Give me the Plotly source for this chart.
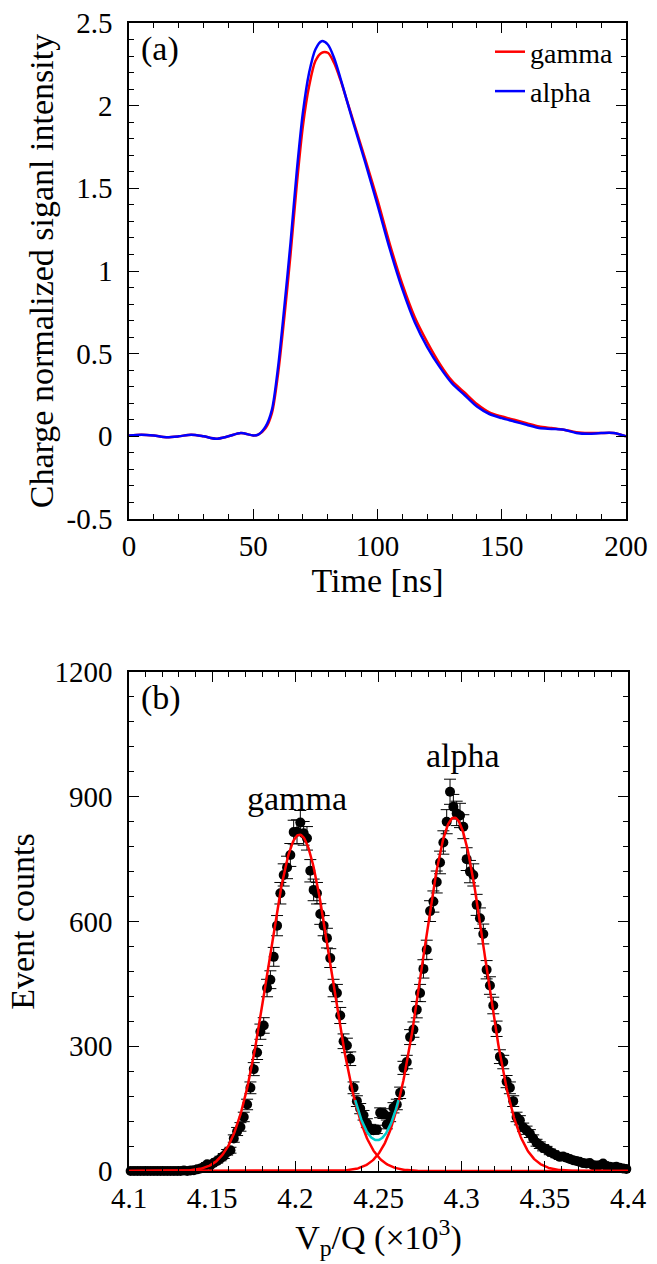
import numpy as np
import plotly.graph_objects as go

# ---------------- Panel (a): charge-normalized signals ----------------
time_ns = [0, 5, 10, 15, 20, 25, 30, 35, 40, 45, 50, 52, 55, 57.5, 60, 62.5, 65, 67.5,
           70, 72.5, 75, 77.5, 80, 82.5, 85, 87.5, 90, 95, 100, 105, 110, 115, 120,
           125, 130, 135, 140, 145, 150, 155, 160, 165, 170, 175, 180, 185, 190, 195, 200]
alpha_sig = [0.005, 0.01, 0.005, -0.005, 0.0, 0.01, 0.0, -0.015, 0.0, 0.02, 0.005, 0.01,
             0.06, 0.16, 0.42, 0.78, 1.17, 1.6, 1.96, 2.2, 2.34, 2.39, 2.37, 2.29, 2.17,
             2.04, 1.91, 1.66, 1.40, 1.13, 0.89, 0.69, 0.54, 0.42, 0.32, 0.25, 0.18, 0.135,
             0.11, 0.09, 0.07, 0.05, 0.045, 0.04, 0.02, 0.015, 0.02, 0.02, 0.0]
gamma_sig = [0.005, 0.01, 0.005, -0.005, 0.0, 0.01, 0.0, -0.015, 0.0, 0.02, 0.005, 0.01,
             0.05, 0.14, 0.38, 0.72, 1.1, 1.52, 1.88, 2.12, 2.27, 2.32, 2.32, 2.26, 2.16,
             2.04, 1.92, 1.68, 1.43, 1.16, 0.92, 0.72, 0.57, 0.44, 0.335, 0.265, 0.195,
             0.145, 0.12, 0.1, 0.08, 0.06, 0.05, 0.04, 0.025, 0.02, 0.02, 0.02, 0.0]

# ---------------- Panel (b): Vp/Q histogram ----------------
vpq_bins = [4.101, 4.103, 4.105, 4.107, 4.109, 4.111, 4.113, 4.115, 4.117, 4.119,
            4.121, 4.123, 4.125, 4.127, 4.129, 4.131, 4.133, 4.135, 4.137, 4.139,
            4.141, 4.143, 4.145, 4.147, 4.149, 4.151, 4.153, 4.155, 4.157, 4.159,
            4.161, 4.163, 4.165, 4.167, 4.169, 4.171, 4.173, 4.175, 4.177, 4.179,
            4.181, 4.183, 4.185, 4.187, 4.189, 4.191, 4.193, 4.195, 4.197, 4.199,
            4.201, 4.203, 4.205, 4.207, 4.209, 4.211, 4.213, 4.215, 4.217, 4.219,
            4.221, 4.223, 4.225, 4.227, 4.229, 4.231, 4.233, 4.235, 4.237, 4.239,
            4.241, 4.243, 4.245, 4.247, 4.249, 4.251, 4.253, 4.255, 4.257, 4.259,
            4.261, 4.263, 4.265, 4.267, 4.269, 4.271, 4.273, 4.275, 4.277, 4.279,
            4.281, 4.283, 4.285, 4.287, 4.289, 4.291, 4.293, 4.295, 4.297, 4.299,
            4.301, 4.303, 4.305, 4.307, 4.309, 4.311, 4.313, 4.315, 4.317, 4.319,
            4.321, 4.323, 4.325, 4.327, 4.329, 4.331, 4.333, 4.335, 4.337, 4.339,
            4.341, 4.343, 4.345, 4.347, 4.349, 4.351, 4.353, 4.355, 4.357, 4.359,
            4.361, 4.363, 4.365, 4.367, 4.369, 4.371, 4.373, 4.375, 4.377, 4.379,
            4.381, 4.383, 4.385, 4.387, 4.389, 4.391, 4.393, 4.395, 4.397, 4.399]
event_counts = [0, 0, 0, 0, 0, 0, 0, 0, 0, 0,
                0, 0, 0, 0, 0, 0, 1, 0, 1, 2,
                4, 6, 10, 16, 14, 20, 24, 30, 36, 45,
                50, 78, 95, 106, 130, 160, 200, 245, 285, 335,
                350, 440, 460, 515, 590, 668, 712, 730, 760, 815,
                816, 838, 812, 800, 722, 676, 668, 618, 590, 560,
                512, 440, 428, 374, 312, 302, 270, 200, 168, 150,
                134, 115, 102, 98, 100, 140, 138, 112, 130, 152,
                160, 188, 248, 262, 322, 340, 388, 428, 486, 532,
                625, 648, 695, 742, 790, 840, 912, 876, 860, 855,
                828, 750, 720, 712, 640, 608, 570, 484, 446, 398,
                342, 275, 262, 215, 200, 168, 130, 122, 105, 98,
                90, 78, 68, 62, 56, 52, 46, 42, 38, 34,
                35, 32, 29, 26, 24, 22, 19, 18, 19, 14,
                13, 14, 18, 11, 10, 9, 10, 8, 6, 5]

# Gaussian fit results (amplitude, mean, sigma)
gamma_fit = [809, 4.2025, 0.0188]
alpha_fit = [850, 4.2955, 0.0185]
sum_fit_range = [4.236, 4.262]

x_ticks_a = [0, 50, 100, 150, 200]
y_ticks_a = [-0.5, 0, 0.5, 1, 1.5, 2, 2.5]
y_ticktext_a = ["-0.5", "0", "0.5", "1", "1.5", "2", "2.5"]
x_ticks_b = [4.1, 4.15, 4.2, 4.25, 4.3, 4.35, 4.4]
x_ticktext_b = ["4.1", "4.15", "4.2", "4.25", "4.3", "4.35", "4.4"]
y_ticks_b = [0, 300, 600, 900, 1200]

FONT = "Liberation Serif, Times New Roman, serif"


def gauss(x, p):
    return p[0] * np.exp(-(x - p[1]) ** 2 / (2 * p[2] ** 2))


xf = np.linspace(4.1, 4.4, 601)
xs = np.linspace(sum_fit_range[0], sum_fit_range[1], 80)

fig = go.Figure()

fig.add_trace(go.Scatter(x=time_ns, y=gamma_sig, mode="lines", name="gamma",
                         line=dict(color="#ff0000", width=2.5, shape="spline",
                                   smoothing=0.8),
                         xaxis="x", yaxis="y"))
fig.add_trace(go.Scatter(x=time_ns, y=alpha_sig, mode="lines", name="alpha",
                         line=dict(color="#0000ff", width=2.5, shape="spline",
                                   smoothing=0.8),
                         xaxis="x", yaxis="y"))

fig.add_trace(go.Scatter(x=vpq_bins, y=event_counts, mode="markers", showlegend=False,
                         marker=dict(color="black", size=10),
                         error_y=dict(type="sqrt", color="black", thickness=1, width=6),
                         cliponaxis=False, xaxis="x2", yaxis="y2"))
fig.add_trace(go.Scatter(x=xf, y=gauss(xf, gamma_fit), mode="lines", showlegend=False,
                         line=dict(color="#ff0000", width=2.5), xaxis="x2", yaxis="y2"))
fig.add_trace(go.Scatter(x=xf, y=gauss(xf, alpha_fit), mode="lines", showlegend=False,
                         line=dict(color="#ff0000", width=2.5), xaxis="x2", yaxis="y2"))
fig.add_trace(go.Scatter(x=xs, y=gauss(xs, gamma_fit) + gauss(xs, alpha_fit), mode="lines",
                         showlegend=False, line=dict(color="#00cccc", width=2.5),
                         xaxis="x2", yaxis="y2"))

W, H = 657, 1264
axis_common = dict(showline=True, linecolor="black", linewidth=1.5, mirror="allticks",
                   ticks="inside", ticklen=10, tickwidth=1.2, tickcolor="black",
                   showgrid=False, zeroline=False, automargin=False,
                   tickfont=dict(family=FONT, size=29, color="black"))

fig.update_layout(
    width=W, height=H, autosize=False,
    margin=dict(l=0, r=0, t=0, b=0, pad=0, autoexpand=False),
    paper_bgcolor="white", plot_bgcolor="white",
    font=dict(family=FONT, color="black"),
    showlegend=True,
    legend=dict(x=490 / W, y=1 - 27 / H, xanchor="left", yanchor="top",
                font=dict(family=FONT, size=28), bgcolor="rgba(0,0,0,0)",
                tracegroupgap=0),
    xaxis=dict(domain=[129 / W, 626 / W], anchor="y", range=[0, 200],
               tickvals=x_ticks_a, minor=dict(dtick=10, ticks="inside", ticklen=5,
                                              tickcolor="black"),
               title=dict(text="Time [ns]", font=dict(family=FONT, size=34), standoff=8),
               **axis_common),
    yaxis=dict(domain=[1 - 519 / H, 1 - 23 / H], anchor="x", range=[-0.5, 2.5],
               tickvals=y_ticks_a, ticktext=y_ticktext_a, ticklabelstandoff=9,
               minor=dict(dtick=0.1, ticks="inside", ticklen=5, tickcolor="black"),
               title=dict(text="Charge normalized siganl intensity",
                          font=dict(family=FONT, size=34), standoff=3),
               **axis_common),
    xaxis2=dict(domain=[129 / W, 628 / W], anchor="y2", range=[4.1, 4.4],
                tickvals=x_ticks_b, ticktext=x_ticktext_b,
                minor=dict(dtick=0.01, tick0=4.1, ticks="inside", ticklen=5,
                           tickcolor="black"),
                title=dict(text="V<sub>p</sub>/Q (×10<sup>3</sup>)",
                           font=dict(family=FONT, size=34), standoff=8),
                **axis_common),
    yaxis2=dict(domain=[1 - 1171 / H, 1 - 672 / H], anchor="x2", range=[0, 1200],
                tickvals=y_ticks_b, ticklabelstandoff=9,
                minor=dict(dtick=60, ticks="inside", ticklen=5, tickcolor="black"),
                title=dict(text="Event counts", font=dict(family=FONT, size=34),
                           standoff=10),
                **axis_common),
    annotations=[
        dict(text="(a)", x=0.02, y=0.99, xref="x domain", yref="y domain",
             xanchor="left", yanchor="top", showarrow=False,
             font=dict(family=FONT, size=34)),
        dict(text="(b)", x=0.02, y=0.99, xref="x2 domain", yref="y2 domain",
             xanchor="left", yanchor="top", showarrow=False,
             font=dict(family=FONT, size=34)),
        dict(text="gamma", x=4.201, y=895, xref="x2", yref="y2", showarrow=False,
             font=dict(family=FONT, size=34)),
        dict(text="alpha", x=4.3005, y=998, xref="x2", yref="y2", showarrow=False,
             font=dict(family=FONT, size=34)),
    ],
)

fig.write_html("out.html", config={"responsive": False})
